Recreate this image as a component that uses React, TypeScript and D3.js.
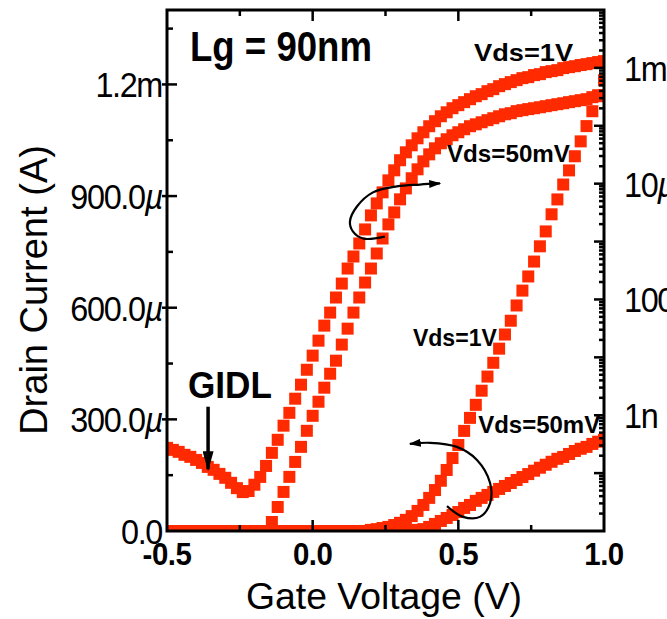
import React, { useRef, useEffect } from 'react';
import * as d3 from 'd3';

// Gate voltage sweep (V)
const gateVoltage = [
	-0.5, -0.48, -0.46, -0.44, -0.42, -0.4, -0.38, -0.36, -0.34, -0.32,
	-0.3, -0.28, -0.26, -0.24, -0.22, -0.2, -0.18, -0.16, -0.14, -0.12,
	-0.1, -0.08, -0.06, -0.04, -0.02, 0, 0.02, 0.04, 0.06, 0.08,
	0.1, 0.12, 0.14, 0.16, 0.18, 0.2, 0.22, 0.24, 0.26, 0.28,
	0.3, 0.32, 0.34, 0.36, 0.38, 0.4, 0.42, 0.44, 0.46, 0.48,
	0.5, 0.52, 0.54, 0.56, 0.58, 0.6, 0.62, 0.64, 0.66, 0.68,
	0.7, 0.72, 0.74, 0.76, 0.78, 0.8, 0.82, 0.84, 0.86, 0.88,
	0.9, 0.92, 0.94, 0.96, 0.98, 1.0,
];

// Drain current on the log axis (A), Vds = 1V (shows GIDL)
const idLog1V = [
	2.73e-10, 2.52e-10, 2.33e-10, 2.07e-10, 1.91e-10, 1.69e-10, 1.5e-10, 1.28e-10, 1.14e-10, 9.7e-11,
	8.3e-11, 6.8e-11, 5.5e-11, 4.7e-11, 4.9e-11, 6.3e-11, 8.6e-11, 1.33e-10, 2.24e-10, 3.76e-10,
	6.6e-10, 1.1e-9, 1.93e-9, 3.37e-9, 6.1e-9, 1.07e-8, 1.94e-8, 3.53e-8, 5.93e-8, 1.08e-7,
	1.88e-7, 3.42e-7, 5.52e-7, 9.27e-7, 1.62e-6, 2.83e-6, 4.56e-6, 7.08e-6, 1.14e-5, 1.7e-5,
	2.54e-5, 3.48e-5, 4.6e-5, 6.08e-5, 7.73e-5, 9.82e-5, 1.2e-4, 1.46e-4, 1.71e-4, 2.01e-4,
	2.27e-4, 2.56e-4, 2.88e-4, 3.24e-4, 3.52e-4, 3.96e-4, 4.29e-4, 4.83e-4, 5.24e-4, 5.68e-4,
	6.14e-4, 6.65e-4, 6.92e-4, 7.5e-4, 7.8e-4, 8.45e-4, 8.79e-4, 9.14e-4, 9.91e-4, 1.03e-3,
	1.07e-3, 1.12e-3, 1.16e-3, 1.21e-3, 1.26e-3, 1.31e-3,
];

// Drain current on the log axis (A), Vds = 50mV (null = below the axis)
const idLog50mV = [
	null, null, null, null, null, null, null, null, null, null,
	null, null, null, null, null, null, null, null, 1.43e-11, 2.6e-11,
	4.73e-11, 8.61e-11, 1.56e-10, 2.84e-10, 5.38e-10, 9.77e-10, 1.71e-9, 2.99e-9, 5.21e-9, 8.75e-9,
	1.66e-8, 3.13e-8, 5.93e-8, 1.08e-7, 1.96e-7, 3.42e-7, 6.22e-7, 1.13e-6, 1.98e-6, 3.19e-6,
	5.36e-6, 8.29e-6, 1.24e-5, 1.77e-5, 2.43e-5, 3.21e-5, 4.08e-5, 4.99e-5, 5.85e-5, 6.85e-5,
	7.73e-5, 8.71e-5, 9.82e-5, 1.06e-4, 1.15e-4, 1.25e-4, 1.35e-4, 1.46e-4, 1.58e-4, 1.65e-4,
	1.79e-4, 1.86e-4, 1.94e-4, 2.01e-4, 2.09e-4, 2.18e-4, 2.27e-4, 2.36e-4, 2.45e-4, 2.56e-4,
	2.66e-4, 2.77e-4, 2.88e-4, 3.12e-4, 3.24e-4, 3.38e-4,
];

// Drain current on the linear axis (uA), Vds = 1V
const idLin1V = [
	0, 0, 0, 0, 0, 0, 0, 0, 0, 0,
	0, 0, 0, 0, 0, 0, 0, 0, 0, 0,
	0, 0, 0, 0, 0, 0, 0, 0, 0, 0,
	0, 0, 0, 0, 0, 3, 5, 8, 11, 16,
	22, 30, 40, 54, 70, 89, 110, 135, 164, 196,
	231, 269, 304, 339, 377, 415, 452, 490, 528, 565,
	606, 646, 684, 724, 765, 805, 851, 891, 931, 969,
	1007, 1047, 1088, 1128, 1171, 1211,
];

// Drain current on the linear axis (uA), Vds = 50mV
const idLin50mV = [
	0, 0, 0, 0, 0, 0, 0, 0, 0, 0,
	0, 0, 0, 0, 0, 0, 0, 0, 0, 0,
	0, 0, 0, 0, 0, 0, 0, 0, 0, 0,
	0, 0, 0, 0, 0, 0, 0, 0, 0, 0,
	0, 0, 0, 3, 5, 11, 19, 27, 35, 43,
	51, 62, 70, 81, 89, 97, 105, 113, 121, 129,
	137, 145, 153, 162, 170, 178, 186, 194, 199, 207,
	215, 221, 226, 234, 240, 245,
];

const xTicks = [-0.5, 0, 0.5, 1.0];
const xTickLabels = ['-0.5', '0.0', '0.5', '1.0'];
const xMinorTicks = [-0.25, 0.25, 0.75];
const leftTicks = [0, 300, 600, 900, 1200];
const leftTickLabels = ['0.0', '300.0', '600.0', '900.0', '1.2m'];
const leftMinorTicks = [150, 450, 750, 1050, 1350];
const rightTicks = [1e-3, 1e-5, 1e-7, 1e-9];
const rightTickLabels = ['1m', '10', '100n', '1n'];

// annotations, in data units (Vg, uA on the linear axis)
const arrowUp = [[0.248, 791], [0.173, 786], [0.138, 805], [0.128, 832], [0.152, 872], [0.207, 910], [0.289, 926], [0.368, 931], [0.437, 934]];
const arrowDown = [[0.461, 67], [0.516, 38], [0.574, 38], [0.609, 75], [0.609, 129], [0.564, 191], [0.495, 226], [0.403, 237], [0.334, 234]];
const arrowGidl = [[-0.359, 334], [-0.359, 166]];

const font = "'Liberation Sans', Arial, Helvetica, sans-serif";

const App: React.FC = () => {
	const svgRef = useRef<SVGSVGElement | null>(null);

	const width = 667;
	const height = 619;
	const left = 167;
	const right = 604;
	const top = 10;
	const bottom = 531;
	const red = '#ff2a00';
	const box = 12;

	useEffect(() => {
		if (!svgRef.current) return;
		const svg = d3.select(svgRef.current);
		svg.selectAll('*').remove();

		const x = d3.scaleLinear().domain([-0.5, 1.0]).range([left, right]);
		const yLin = d3.scaleLinear().domain([0, 1400]).range([bottom, top]);
		const yLog = d3.scaleLog().domain([1e-11, 1e-2]).range([bottom, top]);

		const defs = svg.append('defs');
		defs.append('clipPath').attr('id', 'plot-clip')
			.append('rect')
			.attr('x', left).attr('y', top)
			.attr('width', right - left).attr('height', bottom - top);
		const head = (id: string, w: number, h: number) => {
			defs.append('marker')
				.attr('id', id)
				.attr('markerUnits', 'userSpaceOnUse')
				.attr('viewBox', '0 0 10 10')
				.attr('preserveAspectRatio', 'none')
				.attr('refX', 9).attr('refY', 5)
				.attr('markerWidth', w).attr('markerHeight', h)
				.attr('orient', 'auto')
				.append('path').attr('d', 'M0,0 L10,5 L0,10 Z').attr('fill', '#000');
		};
		head('head-small', 12, 8);
		head('head-big', 20, 11);

		// curves drawn as dense square markers
		const series = [
			{ ys: idLog1V, scale: (v: number) => yLog(v) },
			{ ys: idLog50mV, scale: (v: number) => yLog(v) },
			{ ys: idLin1V, scale: (v: number) => yLin(v) },
			{ ys: idLin50mV, scale: (v: number) => yLin(v) },
		];
		const marks = svg.append('g').attr('clip-path', 'url(#plot-clip)');
		series.forEach(s => {
			const pts = gateVoltage
				.map((v, i) => ({ v, i: s.ys[i] }))
				.filter(d => d.i !== null) as { v: number; i: number }[];
			marks.append('g')
				.selectAll('rect')
				.data(pts)
				.join('rect')
				.attr('x', d => x(d.v) - box / 2)
				.attr('y', d => s.scale(d.i) - box / 2)
				.attr('width', box)
				.attr('height', box)
				.attr('fill', red);
		});

		// frame
		svg.append('rect')
			.attr('x', left).attr('y', top)
			.attr('width', right - left).attr('height', bottom - top)
			.attr('fill', 'none').attr('stroke', '#000').attr('stroke-width', 3);

		const ticks = svg.append('g').attr('stroke', '#000').attr('stroke-width', 2.5);
		// bottom and top ticks
		xTicks.slice(1, -1).forEach(v => {
			ticks.append('line').attr('x1', x(v)).attr('x2', x(v)).attr('y1', bottom).attr('y2', bottom - 11);
			ticks.append('line').attr('x1', x(v)).attr('x2', x(v)).attr('y1', top).attr('y2', top + 11);
		});
		xMinorTicks.forEach(v => {
			ticks.append('line').attr('x1', x(v)).attr('x2', x(v)).attr('y1', bottom).attr('y2', bottom - 6);
			ticks.append('line').attr('x1', x(v)).attr('x2', x(v)).attr('y1', top).attr('y2', top + 6);
		});
		// left ticks
		leftTicks.slice(1).forEach(v => {
			ticks.append('line').attr('x1', left - 5).attr('x2', left + 10).attr('y1', yLin(v)).attr('y2', yLin(v));
		});
		leftMinorTicks.forEach(v => {
			ticks.append('line').attr('x1', left).attr('x2', left + 6).attr('y1', yLin(v)).attr('y2', yLin(v));
		});
		// right log ticks
		yLog.ticks(100).forEach(v => {
			const major = Math.abs(Math.log10(v) - Math.round(Math.log10(v))) < 1e-6;
			if (v <= 1e-11 || v >= 1e-2) return;
			ticks.append('line')
				.attr('x1', right).attr('x2', right - (major ? 10 : 5))
				.attr('y1', yLog(v)).attr('y2', yLog(v));
		});

		// tick labels
		svg.append('g')
			.selectAll('text')
			.data(xTicks)
			.join('text')
			.attr('transform', d => `translate(${x(d)},565) scale(0.95,1)`)
			.attr('text-anchor', 'middle')
			.attr('font-family', font)
			.attr('font-weight', 'bold')
			.attr('font-size', 31)
			.attr('letter-spacing', -0.5)
			.text((d, i) => xTickLabels[i]);

		const leftLabels = svg.append('g')
			.selectAll('text')
			.data(leftTicks)
			.join('text')
			.attr('transform', d => `translate(162,${yLin(d)}) scale(0.9,1)`)
			.attr('dy', '0.36em')
			.attr('text-anchor', 'end')
			.attr('font-family', font)
			.attr('font-size', 36)
			.attr('letter-spacing', -1.5);
		leftLabels.append('tspan').text((d, i) => leftTickLabels[i]);
		leftLabels.filter((d, i) => i > 0 && i < 4)
			.append('tspan').attr('font-style', 'italic').text('\u00b5');

		const rightLabels = svg.append('g')
			.selectAll('text')
			.data(rightTicks)
			.join('text')
			.attr('transform', d => `translate(624,${yLog(d)}) scale(0.9,1)`)
			.attr('dy', '0.36em')
			.attr('font-family', font)
			.attr('font-size', 36)
			.attr('letter-spacing', -1.5);
		rightLabels.append('tspan').text((d, i) => rightTickLabels[i]);
		rightLabels.filter((d, i) => i === 1)
			.append('tspan').attr('font-style', 'italic').text('\u00b5');

		// axis titles
		svg.append('text')
			.attr('x', 384).attr('y', 609)
			.attr('text-anchor', 'middle')
			.attr('font-family', font)
			.attr('font-size', 37)
			.attr('textLength', 276).attr('lengthAdjust', 'spacingAndGlyphs')
			.text('Gate Voltage (V)');
		svg.append('text')
			.attr('transform', 'translate(47,290) rotate(-90)')
			.attr('text-anchor', 'middle')
			.attr('font-family', font)
			.attr('font-size', 39)
			.attr('textLength', 290).attr('lengthAdjust', 'spacingAndGlyphs')
			.text('Drain Current (A)');

		// annotations
		const bold = (txt: string, v: number, i: number, size: number, len: number) => {
			svg.append('text')
				.attr('x', x(v)).attr('y', yLin(i))
				.attr('font-family', font)
				.attr('font-weight', 'bold')
				.attr('font-size', size)
				.attr('textLength', len).attr('lengthAdjust', 'spacingAndGlyphs')
				.text(txt);
		};
		bold('Lg = 90nm', -0.421, 1263, 42, 182);
		bold('Vds=1V', 0.554, 1263, 24, 99);
		bold('Vds=50mV', 0.461, 991, 24, 123);
		bold('Vds=1V', 0.344, 498, 24, 84);
		bold('Vds=50mV', 0.568, 264, 24, 122);
		bold('GIDL', -0.428, 358, 37, 84);

		const arrowLine = d3.line<number[]>()
			.x(d => x(d[0]))
			.y(d => yLin(d[1]))
			.curve(d3.curveCatmullRom);
		svg.append('path')
			.attr('d', arrowLine(arrowUp))
			.attr('fill', 'none').attr('stroke', '#000').attr('stroke-width', 2.2)
			.attr('marker-end', 'url(#head-small)');
		svg.append('path')
			.attr('d', arrowLine(arrowDown))
			.attr('fill', 'none').attr('stroke', '#000').attr('stroke-width', 2.2)
			.attr('marker-end', 'url(#head-small)');
		svg.append('path')
			.attr('d', d3.line<number[]>().x(d => x(d[0])).y(d => yLin(d[1]))(arrowGidl))
			.attr('fill', 'none').attr('stroke', '#000').attr('stroke-width', 3.5)
			.attr('marker-end', 'url(#head-big)');

		return () => { svg.selectAll('*').remove(); };
	}, []);

	return (
		<>
			<style>{'body { margin: 0; }'}</style>
			<svg ref={svgRef} width={width} height={height} style={{ display: 'block', background: '#fff' }} />
		</>
	);
};

export default App;
